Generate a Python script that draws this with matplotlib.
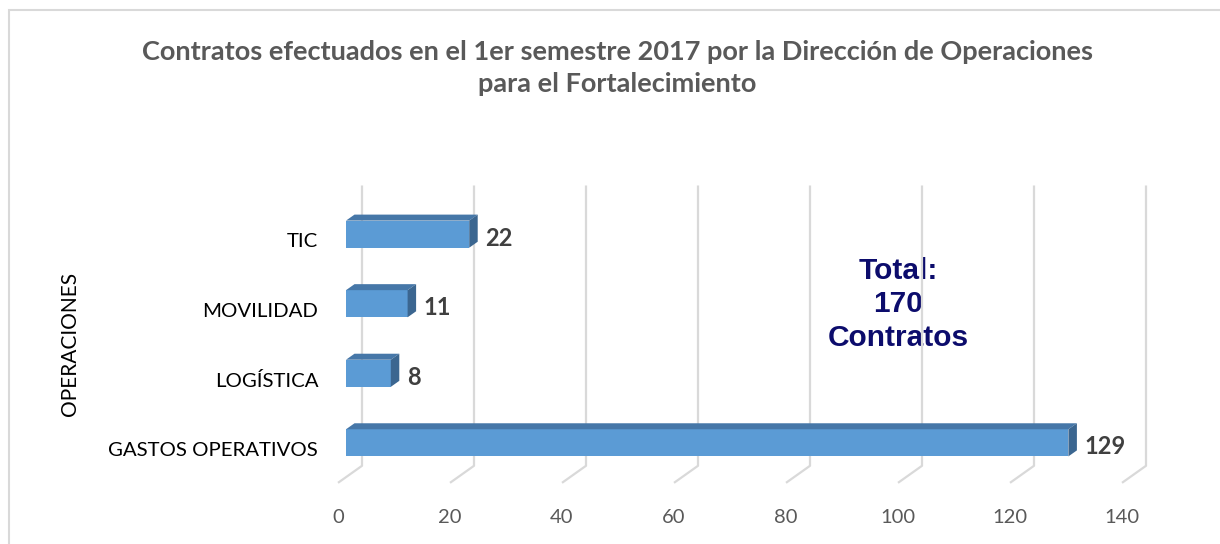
import matplotlib
matplotlib.use("Agg")
import matplotlib.pyplot as plt
from matplotlib.patches import Polygon, Rectangle
from matplotlib.transforms import ScaledTranslation

# data
categories = ["GASTOS OPERATIVOS", "LOGÍSTICA", "MOVILIDAD", "TIC"]
values = [129, 8, 11, 22]
ticks = [0, 20, 40, 60, 80, 100, 120, 140]
title = ("Contratos efectuados en el 1er semestre 2017 por la Dirección de Operaciones\n"
         "para el Fortalecimiento")
total_text = "Total:\n170\nContratos"

W, H = 1220, 544
fig = plt.figure(figsize=(W / 100, H / 100), dpi=100)
ax = fig.add_axes([346 / W, (H - 495) / H, 784 / W, 313 / H])
ax.set_xlim(0, 140)
ax.set_ylim(-0.75, 3.75)
for s in ax.spines.values():
    s.set_visible(False)

# pixel -> data unit helpers
px_x = 140 / 784.0
px_y = 4.5 / 313.0

front = "#5b9bd5"
top = "#4677a8"
side = "#3b6690"
grid = "#d9d9d9"

# gridlines: back wall + slanted floor
back_dx = 16 * px_x
fr_dx = -8 * px_x
for v in ticks:
    ax.plot([v + back_dx, v + back_dx, v + fr_dx], [3.70, -0.33, -0.575],
            color=grid, lw=1.6, zorder=3, clip_on=False, solid_capstyle="butt")

# 3D bars
h = 0.39
dx = 8.5 * px_x
dy = 6 * px_y
for i, v in enumerate(values):
    y0, y1 = i - h / 2, i + h / 2
    ax.add_patch(Rectangle((0, y0), v, h, facecolor=front, edgecolor="none", zorder=5))
    ax.add_patch(Polygon([(0, y1), (v, y1), (v + dx, y1 + dy), (dx, y1 + dy)],
                         closed=True, facecolor=top, edgecolor="none", zorder=5))
    ax.add_patch(Polygon([(v, y0), (v, y1), (v + dx, y1 + dy), (v + dx, y0 + dy)],
                         closed=True, facecolor=side, edgecolor="none", zorder=5))
    ax.text(v + 16 * px_x, i - 4 * px_y, str(v), ha="left", va="center",
            fontsize=17, fontweight="bold", color="#404040", family="Lato", zorder=6)

# ticks
ax.set_xticks(ticks)
ax.set_xticklabels([str(t) for t in ticks], fontsize=14.5, color="#595959", family="Lato")
ax.tick_params(axis="x", length=0, pad=10)
for lab in ax.get_xticklabels():
    lab.set_transform(lab.get_transform() + ScaledTranslation(-8 / 100, 0, fig.dpi_scale_trans))

ax.set_yticks(range(len(categories)))
ax.set_yticklabels(categories, fontsize=14.7, color="#000000", family="Lato")
ax.tick_params(axis="y", length=0, pad=20)
for lab in ax.get_yticklabels():
    lab.set_transform(lab.get_transform() + ScaledTranslation(0, -6 / 100, fig.dpi_scale_trans))

# total annotation
ax.text(98.6, 1.99, total_text, ha="center", va="center", fontsize=21.5,
        fontweight="bold", color="#0c0c6c", family="Liberation Sans",
        linespacing=1.25, zorder=2)

# titles
fig.text(617 / W, 1 - 68 / H, title, ha="center", va="center", fontsize=19.5,
         fontweight="bold", color="#595959", family="Lato", linespacing=1.45)
fig.text(70 / W, 1 - 344 / H, "OPERACIONES", rotation=90, ha="center", va="center",
         fontsize=15, color="#000000", family="Lato")

# chart border
fig.patches.append(Rectangle((9 / W, -0.1), 1.2, 1 - 10 / H + 0.1, transform=fig.transFigure,
                             fill=False, edgecolor="#d9d9d9", lw=1.5))

fig.savefig("out.png", dpi=100)
